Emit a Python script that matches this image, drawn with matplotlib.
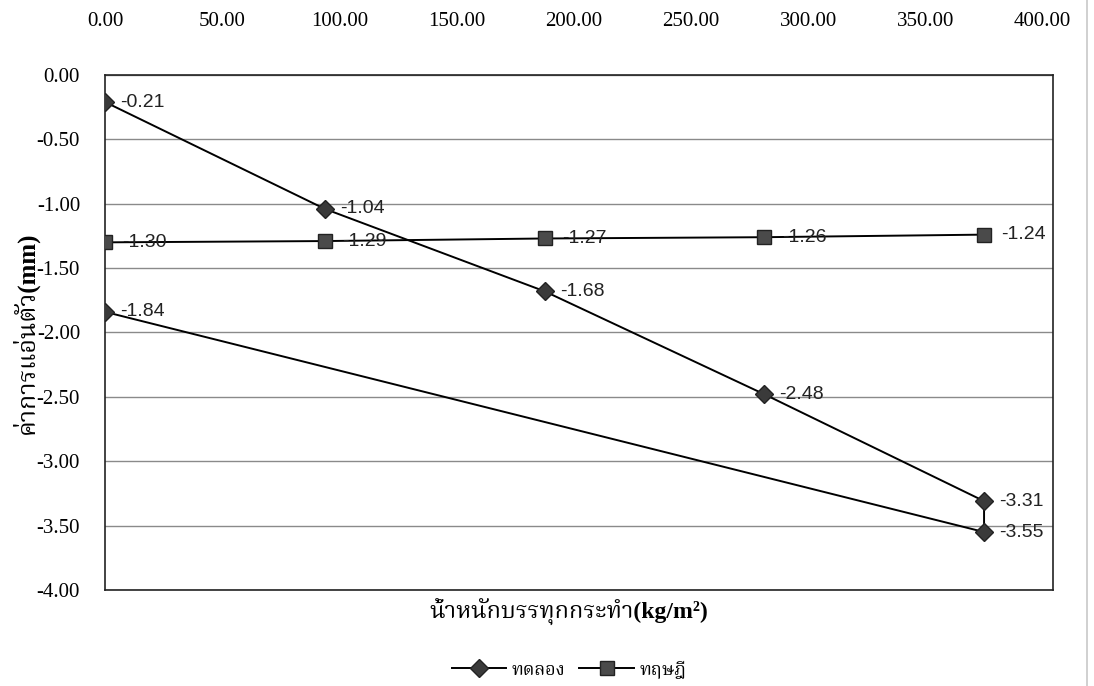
import matplotlib
matplotlib.use('Agg')
import matplotlib.pyplot as plt
from matplotlib.lines import Line2D
from matplotlib import font_manager

# load (kg/m2) and deflection (mm)
load = [0.0, 93.75, 187.5, 281.25, 375.0]
test_path_x = [0.0, 93.75, 187.5, 281.25, 375.0, 375.0, 0.0]
test_path_y = [-0.21, -1.04, -1.68, -2.48, -3.31, -3.55, -1.84]
theory = [-1.30, -1.29, -1.27, -1.26, -1.24]
test_name = 'ทดลอง'
theory_name = 'ทฤษฎี'
xlab = 'น้ำหนักบรรทุกกระทำ(kg/m²)'
ylab = 'ค่าการแอ่นตัว(mm)'
xticks = [0, 50, 100, 150, 200, 250, 300, 350, 400]
yticks = [0, -0.5, -1.0, -1.5, -2.0, -2.5, -3.0, -3.5, -4.0]

# pick whatever Thai faces are installed, serif ones first
installed = set(f.name for f in font_manager.fontManager.ttflist)
prefer = ['Noto Serif Thai', 'Norasi', 'Kinnari', 'Laksaman', 'TH Sarabun New',
          'Noto Sans Thai', 'Noto Sans Thai Looped', 'Loma', 'Garuda', 'Waree',
          'Umpush', 'Tlwg Typo', 'Sawasdee', 'Purisa']
thai = [n for n in prefer if n in installed]
thai += sorted(n for n in installed if 'Thai' in n and n not in thai)
serif = ['Liberation Serif'] + thai + ['DejaVu Sans']

fig = plt.figure(figsize=(10.94, 6.86), dpi=100)
ax = fig.add_axes([0.096, 0.140, 0.8665, 0.7507])

ax.plot(test_path_x, test_path_y, color='black', lw=1.4, marker='D', ms=9,
        mfc='#3a3a3a', mec='#222222', label=test_name, zorder=3)
ax.plot(load, theory, color='black', lw=1.4, marker='s', ms=10,
        mfc='#4a4a4a', mec='#222222', label=theory_name, zorder=3)

for x, y in zip(test_path_x, test_path_y):
    ax.annotate('%.2f' % y, (x, y), xytext=(11, 0), textcoords='offset points',
                va='center', ha='left', fontsize=14, family='Liberation Sans', color='#222222')
for x, y in zip(load, theory):
    ax.annotate('%.2f' % y, (x, y), xytext=(12.5, 0), textcoords='offset points',
                va='center', ha='left', fontsize=14, family='Liberation Sans', color='#222222')

ax.set_xlim(0, 404.4)
ax.set_ylim(-4.0, 0.0)
ax.xaxis.tick_top()
ax.set_xticks(xticks)
ax.set_xticklabels(['%.2f' % v for v in xticks], family=serif, fontsize=15)
ax.set_yticks(yticks)
ax.set_yticklabels(['%.2f' % v for v in yticks], family=serif, fontsize=15)
ax.tick_params(axis='x', length=0, pad=32)
ax.tick_params(axis='y', length=0, pad=18)
ax.grid(axis='y', color='#8a8a8a', lw=1.0)
ax.set_axisbelow(True)
for s in ax.spines.values():
    s.set_color('#222222')
    s.set_linewidth(1.2)

fig.text(0.52, 0.107, xlab, ha='center', va='center', fontsize=17, fontweight='bold', family=serif)
fig.text(0.023, 0.515, ylab, ha='center', va='center', rotation=90, fontsize=18,
         fontweight='bold', family=serif)

fig.legend(loc='center', bbox_to_anchor=(0.52, 0.024), ncol=2, frameon=False,
           prop={'family': serif, 'size': 13}, handlelength=3.0, columnspacing=0.8, handletextpad=0.3)

# page edge on the right
fig.add_artist(Line2D([0.9935, 0.9935], [0, 1], transform=fig.transFigure, color='#c8c8c8', lw=1.2))

fig.savefig('out.png', dpi=100)
